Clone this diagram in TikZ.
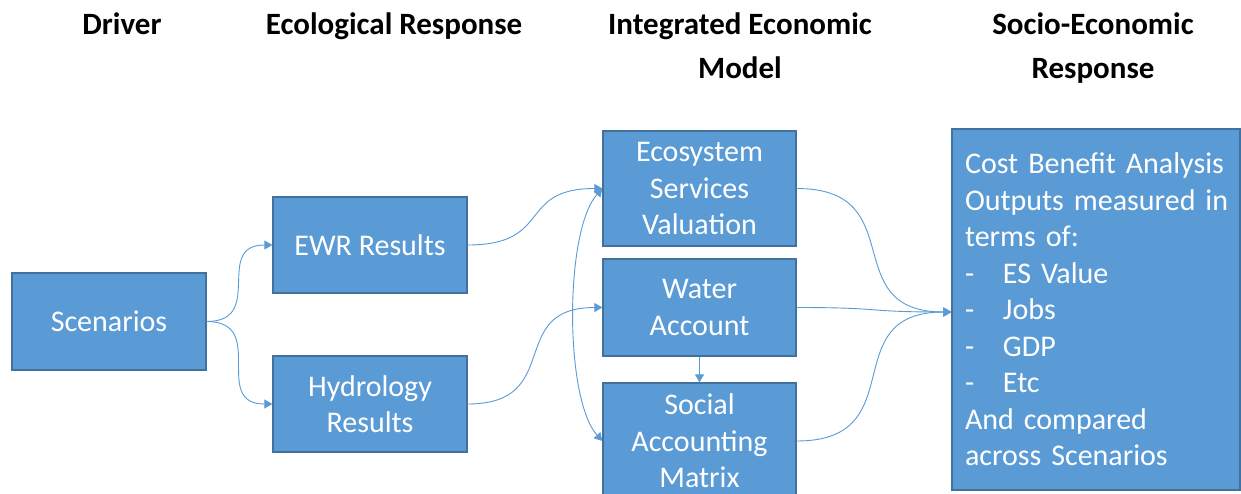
\documentclass[tikz,border=0pt]{standalone}
\usepackage{fontspec}
\setmainfont{Carlito}
\usetikzlibrary{arrows.meta}
\definecolor{boxfill}{HTML}{5B9BD5}
\definecolor{boxline}{HTML}{41719C}
\begin{document}
\begin{tikzpicture}[x=1pt,y=1pt,
  box/.style={draw=boxline, line width=1.3pt, fill=boxfill, text=white, inner sep=0pt,
    align=center, font=\fontsize{30pt}{36.5pt}\selectfont},
  hdr/.style={font=\fontsize{31pt}{44pt}\selectfont\bfseries, align=center, inner sep=0pt, anchor=north},
  conn/.style={draw=boxfill, line width=0.9pt, -{Triangle[width=9pt,length=8pt]}},
  dconn/.style={draw=boxfill, line width=0.9pt, {Triangle[width=9pt,length=8pt]}-{Triangle[width=9pt,length=8pt]}},
]
\fill[white] (0,0) rectangle (1241,-493);
\begin{scope}
\clip (0,0) rectangle (1241,-493);

% headers
\node[hdr] (h1) at (122,-13) {Driver};
\node[hdr] (h2) at (394,-13) {Ecological Response};
\node[hdr] (h3) at (740,-13) {Integrated Economic\\Model};
\node[hdr] (h4) at (1093,-13) {Socio-Economic\\Response};

% boxes
\node[box, minimum width=194pt, minimum height=97pt] (scen) at (109,-321.5) {Scenarios};
\node[box, minimum width=194pt, minimum height=96pt] (ewr) at (370,-245) {EWR Results};
\node[box, minimum width=194pt, minimum height=96pt] (hyd) at (370,-404) {Hydrology\\Results};
\node[box, minimum width=193pt, minimum height=115pt] (eco) at (699.5,-188.5) {Ecosystem\\Services\\Valuation};
\node[box, minimum width=193pt, minimum height=97pt] (wat) at (699.5,-307.5) {Water\\Account};
\node[box, minimum width=193pt, minimum height=116pt] (soc) at (699.5,-441) {Social\\Accounting\\Matrix};
\node[box, minimum width=288pt, minimum height=361pt, text width=262pt, align=left] (cba) at (1096,-309.5)
  {\mbox{Cost Benefit Analysis}\\
   \mbox{Outputs measured in}\\
   \mbox{terms of:}\\
   \mbox{\makebox[38pt][l]{-}ES Value}\\
   \mbox{\makebox[38pt][l]{-}Jobs}\\
   \mbox{\makebox[38pt][l]{-}GDP}\\
   \mbox{\makebox[38pt][l]{-}Etc}\\
   \mbox{And compared}\\
   \mbox{across Scenarios}};

% connectors
\draw[conn] (scen.east) to[out=0,in=180,looseness=1.5] (ewr.west);
\draw[conn] (scen.east) to[out=0,in=180,looseness=1.5] (hyd.west);
\draw[conn] (ewr.east) to[out=0,in=180,looseness=1.5] (eco.west);
\draw[conn] (hyd.east) to[out=0,in=180,looseness=1.5] (wat.west);
\draw[dconn] (eco.west) .. controls ([xshift=-38pt,yshift=-42pt]eco.west) and ([xshift=-38pt,yshift=42pt]soc.west) .. (soc.west);
\draw[conn] (wat.south) -- (soc.north);
\draw[conn] (eco.east) to[out=0,in=180,looseness=1.5] ([yshift=-2.5pt]cba.west);
\draw[conn] (wat.east) to[out=0,in=180,looseness=1.5] ([yshift=-2.5pt]cba.west);
\draw[conn] (soc.east) to[out=0,in=180,looseness=1.5] ([yshift=-2.5pt]cba.west);
\end{scope}

\pgfresetboundingbox
\useasboundingbox (0,0) rectangle (1241,-493);
\end{tikzpicture}
\end{document}
